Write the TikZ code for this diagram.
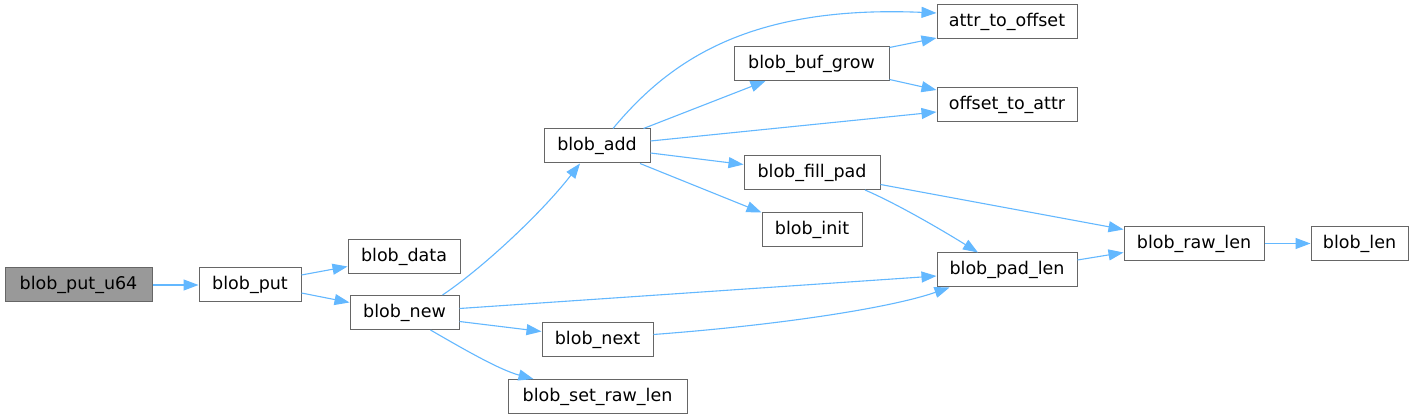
\documentclass[tikz,border=0pt]{standalone}
\usepackage{fontspec}
\setmainfont{DejaVu Sans}
\usetikzlibrary{arrows.meta,calc}
\definecolor{edgeblue}{HTML}{63B8FF}
\definecolor{boxgray}{HTML}{666666}
\definecolor{rootgray}{HTML}{999999}
\begin{document}
\begin{tikzpicture}[x=1pt,y=-1pt,
  box/.style={draw=boxgray, line width=1pt, fill=white, inner sep=0pt,
    minimum height=34pt, font=\fontsize{17.5}{20}\selectfont},
  edge/.style={draw=edgeblue, line width=1.1pt,
    -{Triangle[length=15pt,width=11pt]}}]
\useasboundingbox (0,0) rectangle (1421,419);
\fill[white] (0,0) rectangle (1421,419);
\node[box, fill=rootgray, minimum width=147pt] (u64) at (78.5,285) {blob\_put\_u64};
\node[box, minimum width=102pt] (put) at (250,285) {blob\_put};
\node[box, minimum width=112pt] (data) at (404,256.5) {blob\_data};
\node[box, minimum width=109pt] (new) at (404.5,312.5) {blob\_new};
\node[box, minimum width=106pt] (add) at (597,146) {blob\_add};
\node[box, minimum width=155pt] (grow) at (811.5,63.5) {blob\_buf\_grow};
\node[box, minimum width=136pt] (fill) at (812,172.5) {blob\_fill\_pad};
\node[box, minimum width=100pt] (init) at (812,230) {blob\_init};
\node[box, minimum width=111pt] (next) at (597.5,339.5) {blob\_next};
\node[box, minimum width=179pt] (setraw) at (597.5,396.5) {blob\_set\_raw\_len};
\node[box, minimum width=140pt] (attr) at (1007,22) {attr\_to\_offset};
\node[box, minimum width=140pt] (off) at (1007,105) {offset\_to\_attr};
\node[box, minimum width=140pt] (pad) at (1007,270) {blob\_pad\_len};
\node[box, minimum width=140pt] (raw) at (1194,243.5) {blob\_raw\_len};
\node[box, minimum width=97pt] (len) at (1359.5,243.5) {blob\_len};

\draw[edge] (u64) -- (put);
\draw[edge] ($(put.east)+(0,-10)$) -- ($(data.west)+(0,10)$);
\draw[edge] ($(put.east)+(0,8)$) -- ($(new.west)+(0,-10)$);
\draw[edge] ($(new.north)+(38,0)$) .. controls (480,270) and (540,215) .. ($(add.south)+(-17,0)$);
\draw[edge] ($(new.east)+(0,-4)$) -- ($(pad.west)+(0,6)$);
\draw[edge] ($(new.east)+(0,9)$) -- ($(next.west)+(0,-8)$);
\draw[edge] ($(new.south)+(26,0)$) .. controls (465,350) and (500,370) .. ($(setraw.north)+(-64,0)$);
\draw[edge] ($(add.north)+(16,0)$) .. controls (670,60) and (750,5) .. ($(attr.west)+(0,-9)$);
\draw[edge] ($(add.north east)+(-7,0)$) -- ($(grow.south)+(-46,0)$);
\draw[edge] ($(add.east)+(0,-5)$) -- ($(off.west)+(0,7)$);
\draw[edge] ($(add.east)+(0,7)$) -- ($(fill.west)+(0,-8)$);
\draw[edge] ($(add.south)+(43,0)$) -- (init.north west);
\draw[edge] ($(grow.east)+(0,-16)$) -- ($(attr.west)+(0,16)$);
\draw[edge] ($(grow.east)+(0,16)$) -- ($(off.west)+(0,-15)$);
\draw[edge] ($(fill.east)+(0,12)$) -- ($(raw.west)+(0,-14)$);
\draw[edge] ($(fill.south)+(53,0)$) .. controls (900,205) and (950,235) .. ($(pad.north)+(-29,0)$);
\draw[edge] ($(next.east)+(0,-5)$) .. controls (780,325) and (890,308) .. ($(pad.south west)+(13,0)$);
\draw[edge] ($(pad.east)+(0,-10)$) -- ($(raw.west)+(0,9)$);
\draw[edge] (raw) -- (len);
\end{tikzpicture}
\end{document}
